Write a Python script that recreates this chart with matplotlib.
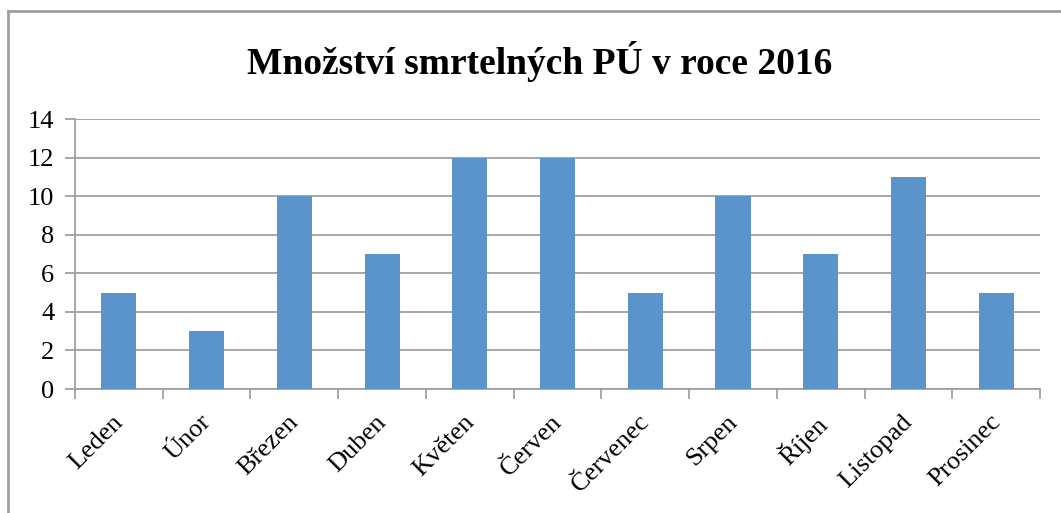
import matplotlib
matplotlib.use("Agg")
import matplotlib.pyplot as plt
import matplotlib.transforms as mtransforms
from matplotlib.lines import Line2D

months = ["Leden", "Únor", "Březen", "Duben", "Květen", "Červen",
          "Červenec", "Srpen", "Říjen", "Listopad", "Prosinec"]
deaths = [5, 3, 10, 7, 12, 12, 5, 10, 7, 11, 5]
y_ticks = [0, 2, 4, 6, 8, 10, 12, 14]

plt.rcParams['font.family'] = ['Liberation Serif', 'DejaVu Serif']

fig = plt.figure(figsize=(10.61, 5.13), dpi=100)
ax = fig.add_axes([75 / 1061, 1 - 389 / 513, (1040 - 75) / 1061, 270 / 513])

x = list(range(len(months)))
ax.bar(x, deaths, width=0.4, color="#5b93cb", zorder=3)

ax.set_xlim(-0.5, len(months) - 0.5)
ax.set_ylim(0, 14)
ax.set_yticks(y_ticks)
ax.set_yticklabels([str(v) for v in y_ticks], fontsize=19)
ax.yaxis.grid(True, color="#a0a0a0", linewidth=1.3, zorder=0)

ax.set_xticks([i - 0.5 for i in range(len(months) + 1)])
ax.set_xticklabels([])
ax.set_xticks(x, minor=True)
ax.set_xticklabels(months, minor=True, rotation=45, ha="right",
                   rotation_mode="anchor", fontsize=19)
ax.tick_params(axis="x", which="minor", length=0, pad=10)
ax.tick_params(axis="x", which="major", length=7, width=1.3, color="#a0a0a0")
ax.tick_params(axis="y", length=7, width=1.3, color="#a0a0a0", pad=8)

# nudge the rotated month names down-left a bit
shift = mtransforms.ScaledTranslation(-7 / 100, -8 / 100, fig.dpi_scale_trans)
for lab in ax.get_xticklabels(minor=True):
    lab.set_transform(lab.get_transform() + shift)

for side in ["top", "right"]:
    ax.spines[side].set_visible(False)
for side in ["left", "bottom"]:
    ax.spines[side].set_color("#a0a0a0")
    ax.spines[side].set_linewidth(1.3)

fig.text(0.509, 1 - 62 / 513, "Množství smrtelných PÚ v roce 2016",
         ha="center", va="center", fontsize=27, fontweight="bold")

# outer chart frame (only top and left edges show in the crop)
fig.add_artist(Line2D([7.5 / 1061, 7.5 / 1061], [0, 1 - 11 / 513],
                      transform=fig.transFigure, color="#a0a0a0", linewidth=2))
fig.add_artist(Line2D([7.5 / 1061, 1], [1 - 11 / 513, 1 - 11 / 513],
                      transform=fig.transFigure, color="#a0a0a0", linewidth=2))

fig.savefig("out.png", dpi=100)
